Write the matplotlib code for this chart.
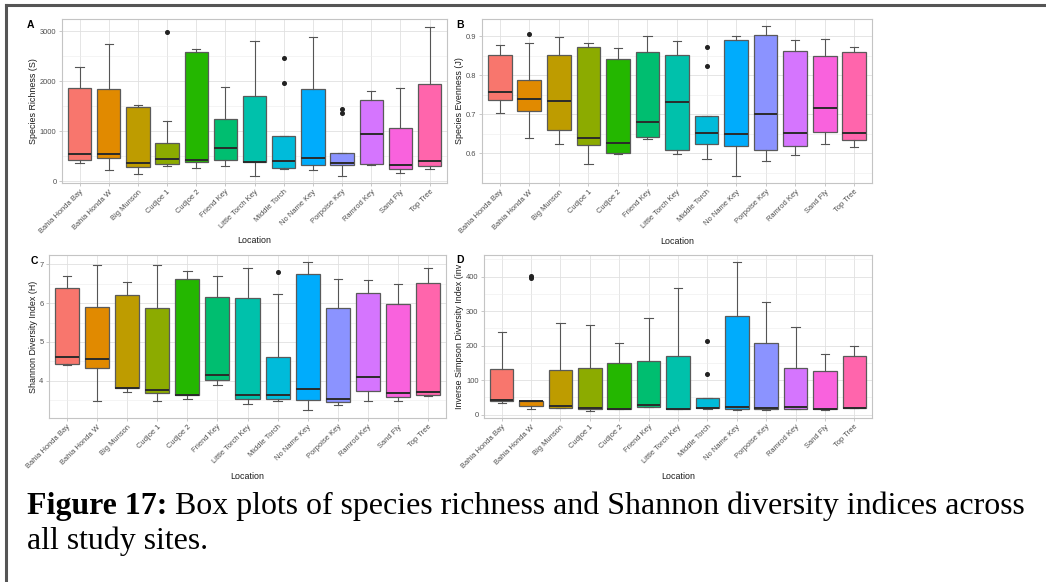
import matplotlib
matplotlib.use("Agg")
import matplotlib.pyplot as plt
from matplotlib.lines import Line2D
from matplotlib.ticker import FixedLocator

# ---------------------------------------------------------------- data
locations = ["Bahia Honda Bay", "Bahia Honda W", "Big Munson", "Cudjoe 1",
             "Cudjoe 2", "Friend Key", "Little Torch Key", "Middle Torch",
             "No Name Key", "Porpoise Key", "Ramrod Key", "Sand Fly", "Top Tree"]

colors = ["#F8766D", "#E18A00", "#BE9C00", "#8CAB00", "#24B700", "#00BE70",
          "#00C1AB", "#00BBDA", "#00ACFC", "#8B93FF", "#D575FE", "#F962DD",
          "#FF65AC"]

# Species richness (S)
rich_lo = [369, 228, 148, 302, 268, 309, 107, 238, 215, 101, 329, 168, 248]
rich_q1 = [412, 470, 282, 349, 376, 430, 376, 270, 315, 329, 336, 242, 295]
rich_med = [550, 550, 362, 436, 430, 658, 383, 399, 463, 362, 953, 322, 403]
rich_q3 = [1872, 1846, 1490, 772, 2597, 1235, 1708, 895, 1846, 570, 1617, 1054, 1946]
rich_hi = [2280, 2745, 1523, 1195, 2644, 1893, 2806, 895, 2886, 570, 1812, 1859, 3094]
rich_out = {3: [2987], 7: [2463, 1960], 9: [1443, 1369]}

# Species evenness (J)
even_lo = [0.702, 0.639, 0.623, 0.573, 0.598, 0.636, 0.597, 0.585, 0.543, 0.580, 0.596, 0.623, 0.615]
even_q1 = [0.737, 0.708, 0.661, 0.622, 0.602, 0.642, 0.608, 0.623, 0.618, 0.609, 0.618, 0.654, 0.635]
even_med = [0.757, 0.738, 0.733, 0.639, 0.627, 0.681, 0.731, 0.651, 0.649, 0.701, 0.651, 0.715, 0.651]
even_q3 = [0.852, 0.787, 0.852, 0.873, 0.842, 0.860, 0.853, 0.695, 0.890, 0.904, 0.861, 0.849, 0.859]
even_hi = [0.878, 0.883, 0.897, 0.883, 0.869, 0.901, 0.888, 0.695, 0.900, 0.925, 0.891, 0.893, 0.872]
even_out = {1: [0.906], 7: [0.872, 0.824]}

# Shannon diversity index (H)
shan_lo = [4.41, 3.48, 3.70, 3.48, 3.53, 3.88, 3.40, 3.47, 3.25, 3.37, 3.49, 3.49, 3.60]
shan_q1 = [4.43, 4.33, 3.81, 3.68, 3.62, 4.03, 3.52, 3.52, 3.51, 3.45, 3.74, 3.57, 3.64]
shan_med = [4.60, 4.55, 3.82, 3.75, 3.64, 4.16, 3.62, 3.64, 3.80, 3.52, 4.09, 3.68, 3.72]
shan_q3 = [6.40, 5.90, 6.22, 5.88, 6.62, 6.15, 6.12, 4.61, 6.74, 5.88, 6.26, 5.98, 6.51]
shan_hi = [6.69, 6.98, 6.54, 6.98, 6.82, 6.69, 6.90, 6.23, 7.05, 6.62, 6.59, 6.48, 6.90]
shan_out = {7: [6.80]}

# Inverse Simpson diversity index
invs_lo = [34, 16, 19, 11, 15, 23, 15, 15, 13, 14, 15, 13, 19]
invs_q1 = [38, 25, 20, 16, 15, 23, 16, 19, 16, 16, 16, 15, 19]
invs_med = [42, 39, 24, 20, 17, 27, 17, 19, 22, 18, 21, 17, 20]
invs_q3 = [132, 40, 128, 136, 149, 154, 171, 47, 285, 207, 134, 125, 169]
invs_hi = [239, 40, 265, 260, 208, 280, 366, 47, 442, 328, 254, 175, 199]
invs_out = {1: [403, 397], 7: [213, 117]}

caption_bold = "Figure 17:"
caption_line1 = "Box plots of species richness and Shannon diversity indices across"
caption_line2 = "all study sites."

# ---------------------------------------------------------------- style
plt.rcParams["font.family"] = ["Liberation Sans", "DejaVu Sans"]

W, H = 1046, 582
fig = plt.figure(figsize=(W / 100, H / 100), dpi=100)
fig.patch.set_facecolor("white")

TICK_FS = 5.4
TITLE_FS = 6.4


def px_axes(left, top, right, bottom):
    return fig.add_axes([left / W, 1 - bottom / H, (right - left) / W, (bottom - top) / H])


def box_panel(ax, lo, q1, med, q3, hi, out, ylim, yticks, yminor, ylabel,
              letter, letter_xy, ylab_x, xlab_y):
    stats = []
    for i in range(len(locations)):
        stats.append(dict(whislo=lo[i], q1=q1[i], med=med[i], q3=q3[i],
                          whishi=hi[i], fliers=out.get(i, []), label=locations[i]))
    pos = list(range(1, len(locations) + 1))
    bp = ax.bxp(stats, positions=pos, widths=0.8, capwidths=0.28,
                patch_artist=True, showfliers=True,
                boxprops=dict(edgecolor="#5a5a5a", linewidth=0.9),
                medianprops=dict(color="#2b2b2b", linewidth=1.4),
                whiskerprops=dict(color="#555555", linewidth=0.8),
                capprops=dict(color="#555555", linewidth=0.8),
                flierprops=dict(marker="o", markersize=2.6,
                                markerfacecolor="#222222",
                                markeredgecolor="#222222"),
                zorder=3)
    for patch, c in zip(bp["boxes"], colors):
        patch.set_facecolor(c)

    ax.set_xlim(0.4, len(locations) + 0.6)
    ax.set_ylim(*ylim)
    ax.set_xticks(pos)
    ax.set_xticklabels(locations, rotation=45, ha="right",
                       rotation_mode="anchor", fontsize=TICK_FS, color="#4D4D4D")
    ax.yaxis.set_major_locator(FixedLocator(yticks))
    ax.yaxis.set_minor_locator(FixedLocator(yminor))
    ax.set_yticklabels([f"{t:g}" for t in yticks], fontsize=TICK_FS, color="#4D4D4D")
    ax.tick_params(axis="both", which="major", length=2.5, width=0.5,
                   color="#B3B3B3", pad=1.5)
    ax.tick_params(axis="y", which="minor", length=0)
    ax.grid(True, which="major", color="#E0E0E0", linewidth=0.6, zorder=0)
    ax.grid(True, which="minor", axis="y", color="#EDEDED", linewidth=0.4, zorder=0)
    ax.set_axisbelow(True)
    for s in ax.spines.values():
        s.set_color("#C4C4C4")
        s.set_linewidth(0.8)

    ax.set_xlabel("Location", fontsize=TITLE_FS, color="#1a1a1a")
    ax.xaxis.label.set_va("center")
    ax.xaxis.set_label_coords(0.5, xlab_y)
    ax.set_ylabel(ylabel, fontsize=TITLE_FS, color="#1a1a1a")
    ax.yaxis.label.set_va("center")
    ax.yaxis.set_label_coords(ylab_x, 0.5)

    fig.text(letter_xy[0] / W, 1 - letter_xy[1] / H, letter, fontsize=7.5,
             fontweight="bold", ha="left", va="center")


axA = px_axes(62, 19, 447, 183)
box_panel(axA, rich_lo, rich_q1, rich_med, rich_q3, rich_hi, rich_out,
          (-40, 3250), [0, 1000, 2000, 3000], [500, 1500, 2500],
          "Species Richness (S)", "A", (27, 25), -0.073, -0.348)

axB = px_axes(482, 19, 872, 183)
box_panel(axB, even_lo, even_q1, even_med, even_q3, even_hi, even_out,
          (0.524, 0.944), [0.6, 0.7, 0.8, 0.9], [0.55, 0.65, 0.75, 0.85],
          "Species Evenness (J)", "B", (456, 25), -0.057, -0.354)

axC = px_axes(49, 255, 446, 418)
box_panel(axC, shan_lo, shan_q1, shan_med, shan_q3, shan_hi, shan_out,
          (3.04, 7.24), [4, 5, 6, 7], [3.5, 4.5, 5.5, 6.5],
          "Shannon Diversity Index (H)", "C", (31, 261), -0.040, -0.356)

axD = px_axes(484, 255, 872, 418)
box_panel(axD, invs_lo, invs_q1, invs_med, invs_q3, invs_hi, invs_out,
          (-10, 463), [0, 100, 200, 300, 400], [50, 150, 250, 350, 450],
          "Inverse Simpson Diversity Index (inv", "D", (456, 260), -0.062, -0.356)

# ---------------------------------------------------------------- frame and caption
fig.add_artist(Line2D([5.5 / W, 5.5 / W], [0, 1 - 4.5 / H], transform=fig.transFigure,
                      color="#555555", linewidth=2.2))
fig.add_artist(Line2D([5.5 / W, 1.0], [1 - 4.5 / H, 1 - 4.5 / H], transform=fig.transFigure,
                      color="#555555", linewidth=2.2))

serif = ["Liberation Serif", "DejaVu Serif"]
cap_left, cap_right = 27, 1025
base1, base2 = 514, 549


def caption_width(size):
    a = fig.text(0, 0, caption_bold + " ", fontsize=size, fontweight="bold", family=serif)
    b = fig.text(0, 0, caption_line1, fontsize=size, family=serif)
    r = fig.canvas.get_renderer()
    w = a.get_window_extent(r).width + b.get_window_extent(r).width
    a.remove()
    b.remove()
    return w


size = 20.0
size *= (cap_right - cap_left) / caption_width(size)

t1 = fig.text(cap_left / W, 1 - base1 / H, caption_bold, fontsize=size, fontweight="bold",
              family=serif, ha="left", va="baseline")
fig.canvas.draw()
bb = t1.get_window_extent()
space = size * 100 / 72 * 0.25
fig.text((bb.x1 + space) / W, 1 - base1 / H, caption_line1,
         fontsize=size, family=serif, ha="left", va="baseline")
fig.text(cap_left / W, 1 - base2 / H, caption_line2, fontsize=size, family=serif,
         ha="left", va="baseline")

fig.savefig("out.png", dpi=100, facecolor="white")
